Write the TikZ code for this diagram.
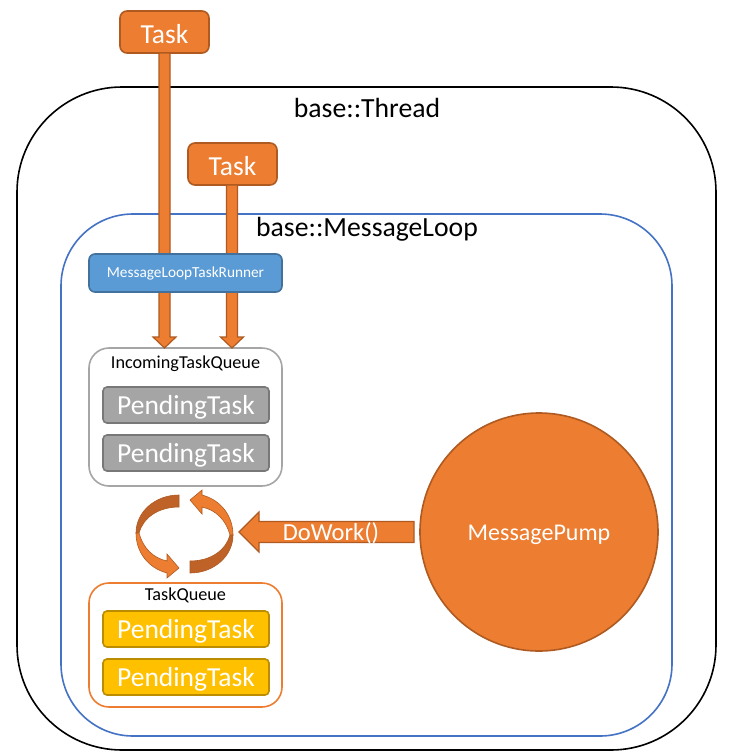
\documentclass[tikz,border=0pt]{standalone}
\usepackage{fontspec}
\setmainfont{Carlito}
\definecolor{org}{HTML}{ED7D31}
\definecolor{orgdk}{HTML}{AE5A21}
\definecolor{orgmid}{HTML}{BE6228}
\definecolor{blu}{HTML}{4472C4}
\definecolor{sky}{HTML}{5B9BD5}
\definecolor{skydk}{HTML}{41719C}
\definecolor{gry}{HTML}{A5A5A5}
\definecolor{grydk}{HTML}{787878}
\definecolor{yel}{HTML}{FFC000}
\definecolor{yeldk}{HTML}{BC8C00}
\newcommand{\fs}[1]{\fontsize{#1}{#1}\selectfont}
\newcommand{\dn}[1]{\raisebox{-2.5pt}[\height][\depth]{#1}}
\tikzset{
  x=1pt,y=-1pt,
  basebox/.style={draw,inner sep=0pt,outer sep=0pt,line width=1.6pt,fill=white},
  tasknode/.style={basebox,fill=org,draw=orgdk,text=white,rounded corners=7pt,minimum width=89pt,minimum height=42pt,font=\fs{27.5}},
  pendgray/.style={basebox,fill=gry,draw=grydk,text=white,rounded corners=4pt,minimum width=166pt,minimum height=36pt,font=\fs{27.5}},
  pendyel/.style={basebox,fill=yel,draw=yeldk,text=white,rounded corners=4pt,minimum width=166pt,minimum height=36pt,font=\fs{27.5}},
  fatarrow/.style={fill=org,draw=orgdk,line width=1.2pt,line join=miter},
  title/.style={inner sep=0pt,text=black,font=\fs{27.7}},
  caption/.style={inner sep=0pt,text=black,font=\fs{18.2}},
}
% x position, source node, target node
\newcommand{\fatdown}[3]{%
  \draw[fatarrow] (#1-5.5,0 |- #2.south) -- (#1-5.5,337) -- (#1-11.5,337) -- (#1,0 |- #3.north)
    -- (#1+11.5,337) -- (#1+5.5,337) -- (#1+5.5,0 |- #2.south) -- cycle;}
\newcommand{\cyclehalf}{%
  \fill[orgmid,draw=orgdk,line width=0.6pt] (179,495) .. controls (155,495) and (136,512) .. (136,533)
    -- (139,533) .. controls (143,518) and (158,507) .. (179,507) -- cycle;
  \fill[org,draw=orgdk,line width=0.6pt] (136,533) .. controls (136,552) and (148,568) .. (167,573)
    -- (167,578) -- (179,568) -- (167,554) -- (167,561)
    .. controls (153,558) and (143,548) .. (139,533) -- cycle;}
\begin{document}
\begin{tikzpicture}
\useasboundingbox (0,0) rectangle (734,756);
\node[basebox,draw=black,rounded corners=105pt,minimum width=699pt,minimum height=663pt] (thread) at (366.5,418.5) {};
\node[title] (threadlabel) at (367,107.5) {base::Thread};
\node[basebox,draw=blu,rounded corners=72pt,minimum width=611pt,minimum height=522pt] (loop) at (366.5,475) {};
\node[title] (looplabel) at (367,229.5) {base::MessageLoop};
\node[tasknode] (task1) at (164.5,32) {\dn{Task}};
\node[tasknode] (task2) at (232.5,164) {\dn{Task}};
\node[basebox,draw=gry,rounded corners=20pt,minimum width=193pt,minimum height=138pt] (incoming) at (185.5,417) {};
\node[caption] (incominglabel) at (185.5,363.5) {IncomingTaskQueue};
\node[pendgray] (pa) at (186,405) {\dn{PendingTask}};
\node[pendgray] (pb) at (186,453) {\dn{PendingTask}};
\node[basebox,draw=org,rounded corners=20pt,minimum width=193pt,minimum height=124pt] (queue) at (185.5,645) {};
\node[caption] (queuelabel) at (185.5,595) {TaskQueue};
\node[pendyel] (pc) at (186,629) {\dn{PendingTask}};
\node[pendyel] (pd) at (186,677) {\dn{PendingTask}};
\fatdown{164.5}{task1}{incoming}
\fatdown{232}{task2}{incoming}
\node[basebox,fill=sky,draw=skydk,text=white,rounded corners=6pt,minimum width=193pt,minimum height=38pt,font=\fs{15.3}] (runner) at (185.5,273) {MessageLoopTaskRunner};
\node[basebox,circle,fill=org,draw=orgdk,text=white,minimum size=238pt,font=\fs{24}] (pump) at (539,532) {\dn{MessagePump}};
\cyclehalf
\begin{scope}[shift={(369,1068)},xscale=-1,yscale=-1]
\cyclehalf
\end{scope}
\coordinate (worktip) at (239,532);
\coordinate (workstart) at (414,532);
\draw[fatarrow] (workstart |- 0,521.5) -- (259,521.5) -- (259,512) -- (worktip) -- (259,552) -- (259,542.5) -- (workstart |- 0,542.5) -- cycle;
\node[inner sep=0pt,text=white,font=\fs{24.5}] (dowork) at (331,533) {DoWork()};
\end{tikzpicture}
\end{document}
